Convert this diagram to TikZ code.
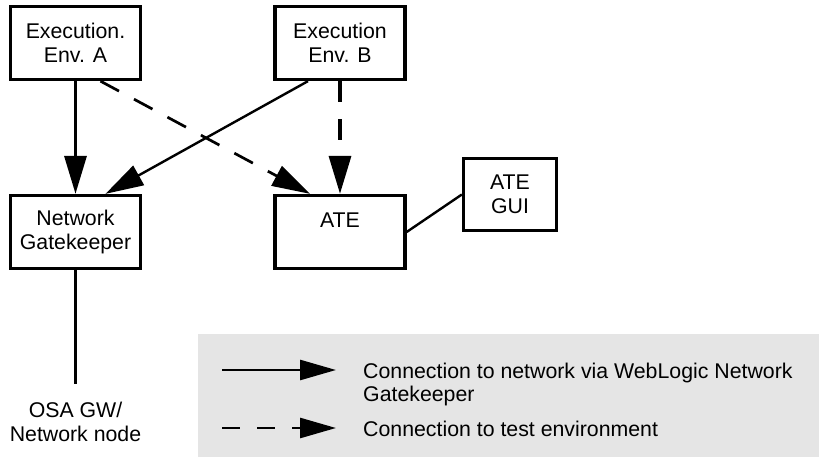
\documentclass[tikz,border=0pt]{standalone}
\usepackage{fontspec}
\setmainfont{Liberation Sans}
\usetikzlibrary{arrows.meta,calc}
\definecolor{legendgrey}{HTML}{E5E5E5}
\tikzset{
  box/.style={draw, line width=3.3pt, minimum width=130pt, minimum height=73pt,
    align=center, inner sep=0pt, font=\fontsize{21.3}{24.5}\selectfont},
  lbl/.style={inner sep=0pt, align=center, font=\fontsize{21.3}{24.5}\selectfont},
  legtext/.style={inner sep=0pt, align=left, anchor=north west, font=\fontsize{21.3}{23}\selectfont},
  bigtip/.style={-{Triangle[length=38pt,width=22pt]}},
  conn/.style={line width=3.3pt},
  thinconn/.style={line width=2.4pt},
  dashconn/.style={line width=2.7pt, dash pattern=on 21pt off 17pt},
}
\begin{document}
\begin{tikzpicture}[x=1pt,y=-1pt]
\useasboundingbox (0,0) rectangle (819,457);
% legend background
\fill[legendgrey] (198,334) rectangle (819,457);

% boxes
\node[box] (A) at (75.5,43) {Execution.\\Env. A};
\node[box] (B) at (340,43) {Execution\\Env. B};
\node[box] (NG) at (75.5,232) {Network\\Gatekeeper};
\node[box, text height=15pt, text depth=25pt] (ATE) at (340,232) {ATE};
\node[box, minimum width=93pt, minimum height=72pt] (GUI) at (510,194.5) {ATE\\GUI};
\node[lbl, anchor=north] (OSA) at (75.5,401.5) {OSA GW/\\Network node};

% connectors
\draw[conn,bigtip] (A.south) -- (NG.north);
\draw[thinconn,bigtip] ([xshift=-32pt]B.south) -- ([xshift=30pt]NG.north);
\draw[dashconn,bigtip] ([xshift=25pt]A.south) -- ([xshift=-30pt]ATE.north);
\draw[dashconn,line width=3.3pt,bigtip] (B.south) -- (ATE.north);
\draw[thinconn] (ATE.east) -- (GUI.west);
\draw[conn] (NG.south) -- ([yshift=17.5pt]OSA.north);

% legend
\coordinate (l1s) at (222,370);
\coordinate (l1e) at (336,370);
\coordinate (l2s) at (222,428);
\coordinate (l2e) at (336,428);
\draw[line width=2.7pt,-{Triangle[length=36pt,width=20pt]}] (l1s) -- (l1e);
\draw[line width=2.7pt,dash pattern=on 18pt off 17pt,-{Triangle[length=36pt,width=20pt]}] (l2s) -- (l2e);
\node[legtext] (t1) at (363,362.5) {Connection to network via WebLogic Network\\Gatekeeper};
\node[legtext] (t2) at (363,420.5) {Connection to test environment};
\end{tikzpicture}
\end{document}
